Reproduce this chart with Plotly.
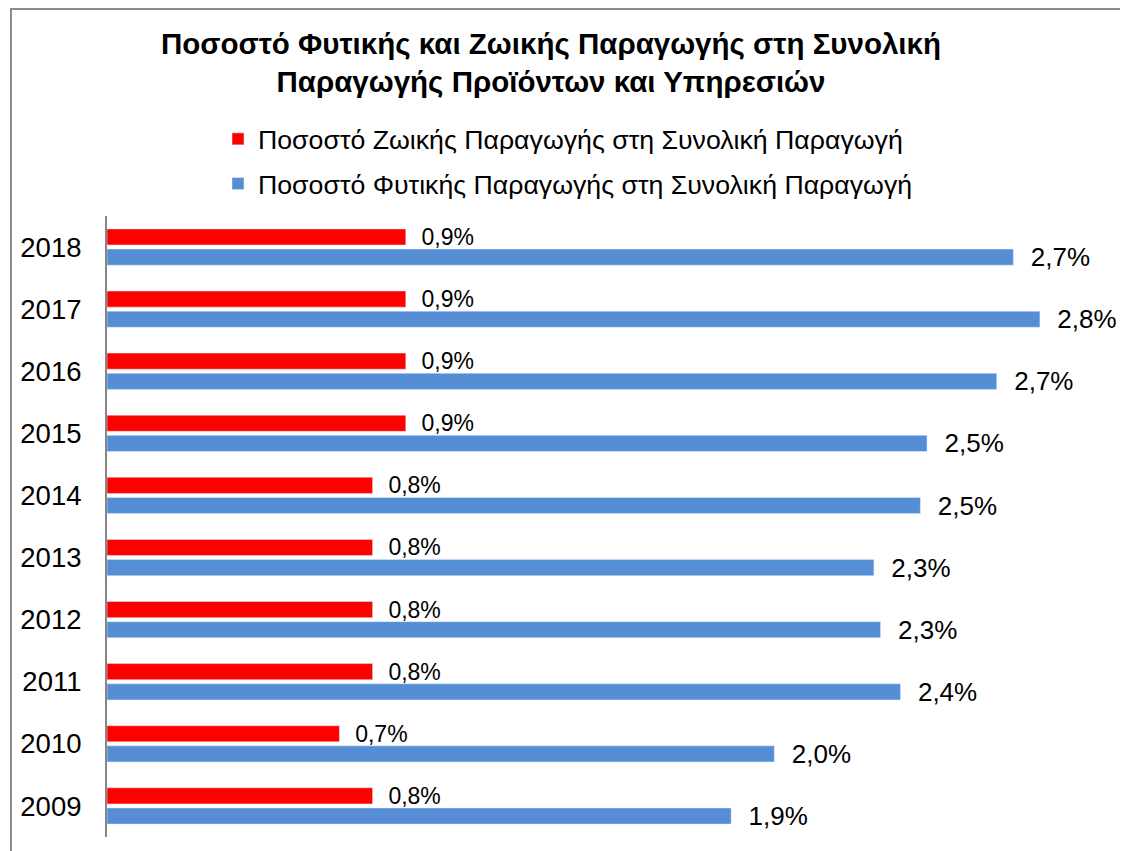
import plotly.graph_objects as go

years = ["2009", "2010", "2011", "2012", "2013", "2014", "2015", "2016", "2017", "2018"]
animal_share = [0.80, 0.70, 0.80, 0.80, 0.80, 0.80, 0.90, 0.90, 0.90, 0.90]
plant_share = [1.88, 2.01, 2.39, 2.33, 2.31, 2.45, 2.47, 2.68, 2.81, 2.73]

animal_name = "Ποσοστό Ζωικής Παραγωγής στη Συνολική Παραγωγή"
plant_name = "Ποσοστό Φυτικής Παραγωγής στη Συνολική Παραγωγή"
title_text = "Ποσοστό Φυτικής και Ζωικής Παραγωγής στη Συνολική<br>Παραγωγής Προϊόντων και Υπηρεσιών"

FONT = "Liberation Sans, Arial, sans-serif"
OFF = 8  # page body margin
W, H = 1120, 843
L, R, T, B = 107 - OFF, 25, 216 - OFF, 14
pw = W - L - R
ph = H - T - B

fig = go.Figure()
fig.add_trace(go.Bar(
    y=years, x=plant_share, orientation="h", name=plant_name,
    marker=dict(color="#558ED5"),
    texttemplate="\u00a0\u00a0%{x:.1f}%", textposition="outside",
    constraintext="none",
    textfont=dict(size=26, color="#000000", family=FONT),
    cliponaxis=False, legendgroup="b", legendrank=2,
))
fig.add_trace(go.Bar(
    y=years, x=animal_share, orientation="h", name=animal_name,
    marker=dict(color="#FF0000"),
    texttemplate="\u00a0\u00a0%{x:.1f}%", textposition="outside",
    constraintext="none",
    textfont=dict(size=23, color="#000000", family=FONT),
    cliponaxis=False, legendgroup="a", legendrank=1,
))

def px_x(p):
    return (p - OFF - L) / pw

def px_y(p):
    return (H - B - (p - OFF)) / ph

fig.update_layout(
    width=W, height=H,
    margin=dict(l=L, r=R, t=T, b=B, autoexpand=False),
    paper_bgcolor="white", plot_bgcolor="white",
    separators=",.",
    barmode="group", bargap=0.35, bargroupgap=0.2,
    font=dict(family=FONT, color="#000000"),
    title=dict(text=title_text, x=(551 - OFF) / W, xref="container", xanchor="center",
               y=1 - 46 / H, yref="container", yanchor="middle",
               font=dict(size=29.5, family=FONT, color="#000000", weight="bold")),
    legend=dict(x=px_x(218), y=px_y(115), xanchor="left", yanchor="top",
                traceorder="grouped", tracegroupgap=7,
                font=dict(size=26.7, family=FONT, color="#000000"),
                bgcolor="rgba(0,0,0,0)"),
    showlegend=True,
    xaxis=dict(range=[0, 3.0], visible=False, showgrid=False, zeroline=False),
    yaxis=dict(type="category", showline=True, linecolor="#868686", linewidth=2,
               showgrid=False, ticks="", ticklabelstandoff=18, automargin=False,
               tickfont=dict(size=27.5, family=FONT, color="#000000")),
    shapes=[dict(type="rect", xref="paper", yref="paper",
                 x0=px_x(11), x1=px_x(1200), y0=px_y(900), y1=px_y(9),
                 line=dict(color="#8C8C8C", width=2), fillcolor="rgba(0,0,0,0)",
                 layer="above")],
)

fig.write_html("out.html")
